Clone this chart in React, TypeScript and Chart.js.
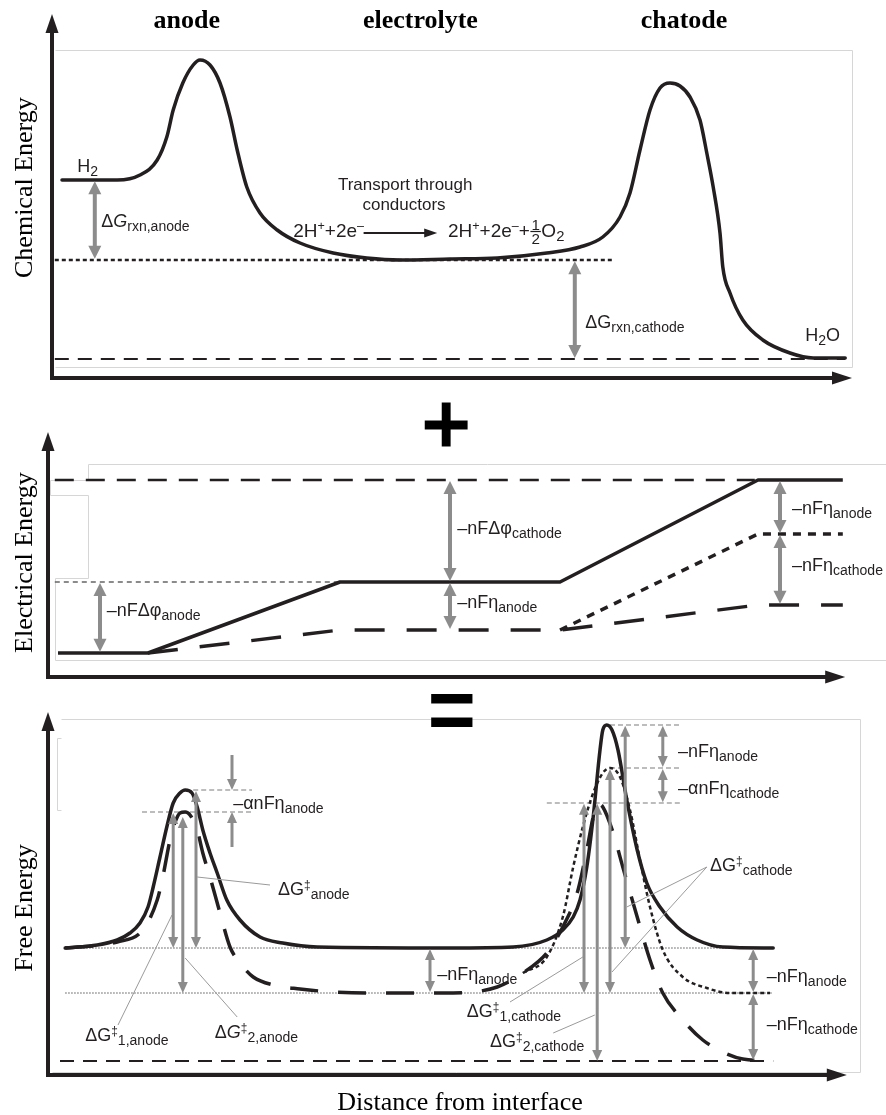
import React, { useEffect, useRef } from "react";
import { Chart, registerables } from "chart.js";

Chart.register(...registerables);

const W = 886;
const H = 1115;

// ---------------- DATA ----------------
// x = distance from interface (arbitrary units), y = energy (arbitrary units)

// Panel 1: chemical energy
const chemDistance = [1.5, 8.4, 11.25, 13.4, 14.6, 15.4, 16.6, 17.9, 18.75, 20, 21.25, 22.5, 23.4, 24.6, 26.25, 28.4, 31.25, 35.4, 39.6, 43.75, 50, 55.9, 62.1, 66.25, 69.1, 71.25, 72.5, 73.75, 75, 76.25, 77.5, 78.75, 80, 81.25, 82.1, 82.9, 83.75, 84.1, 85, 86.6, 89.1, 92.5, 95.4, 99.4];
const chemEnergy = [49.5, 49.5, 50.75, 54.5, 60.25, 67, 73.75, 78.25, 79.5, 78.25, 73.75, 65.25, 57, 47.75, 41.25, 37, 33.75, 31.25, 30, 29.5, 29.75, 30, 31.25, 32.75, 35.25, 40.25, 46.25, 57, 67, 72.5, 73.75, 73, 70.25, 64.5, 56.25, 47.75, 36.25, 27.75, 21.25, 14.5, 9.5, 6.25, 5, 5];
const chemIonLevel = 29.5;
const chemIonSpan = [0.6, 70.25];
const chemWaterLevel = 4.75;
const chemWaterSpan = [0.6, 99.4];

// Panel 2: electrical energy
const elecDistance = [1, 12.25, 36.25, 63.75, 88.5, 99.1];
const elecEquilibrium = [6, 6, 23.75, 23.75, 49.25, 49.25];
const elecAnodeDistance = [12.25, 36.25, 63.75, 88.5, 99.1];
const elecAnodeOver = [6, 11.75, 11.75, 18, 18];
const elecCathodeDistance = [63.75, 88.5, 99.1];
const elecCathodeOver = [11.75, 35.75, 35.75];
const elecTopLevel = 49.25;
const elecTopSpan = [0.6, 88.1];
const elecAnodeRefLevel = 23.75;
const elecAnodeRefSpan = [0.6, 36.25];

// Panel 3: free energy
const freeDistance = [1.9, 5.9, 8.4, 10, 11.25, 12.25, 12.9, 13.75, 14.6, 15.4, 16.25, 16.9, 17.75, 18.4, 19.1, 20, 20.9, 22.1, 23.75, 26.25, 29.1, 33.4, 50, 57.9, 62.1, 64.1, 65.4, 66.25, 67.1, 67.9, 68.75, 69.1, 69.6, 70.25, 71, 72.1, 73.4, 74.6, 76.25, 78.4, 80.9, 84.1, 90.4];
const freeEquilibrium = [31.75, 32.5, 33.75, 35.5, 38, 42, 47, 54.5, 62, 68, 70.5, 71.25, 70.5, 67, 61.25, 55.5, 50.5, 43.75, 38.75, 34.5, 33, 32, 31.75, 32, 33.75, 36.25, 39.5, 43.75, 52, 64.5, 81.25, 86.25, 87.5, 86.25, 81.25, 68.75, 56.25, 48, 42, 37, 33.75, 32, 31.75];
const freeBiasedDistance = [1.9, 8.4, 11.6, 13.4, 14.1, 15, 15.6, 16.25, 16.9, 17.5, 18.4, 19.1, 20, 21.25, 22.5, 23.75, 25.4, 27.9, 31.25, 35.4, 39.6, 50.4, 55.9, 59.1, 62.1, 64.1, 65.9, 67.1, 67.9, 68.4, 69.1, 70.4, 71.6, 73.4, 75, 76.6, 79.1, 81.6, 84.1, 86.6, 90.4];
const freeBiased = [31.75, 33.25, 36.25, 43.75, 49.5, 58.75, 63, 65.5, 65.75, 65, 61.25, 55.5, 49.5, 40.5, 32, 28, 24.5, 22.5, 21.5, 20.75, 20.5, 20.5, 22, 25.5, 30.5, 37, 45.5, 56.25, 64.5, 67.75, 67, 60.5, 52, 39.5, 28.75, 20.5, 13.75, 8.75, 5.75, 4, 3.5];
const freeAnodeOnlyDistance = [59.1, 62.1, 64.1, 65.4, 66.6, 67.9, 69.1, 70, 71.25, 72.5, 73.75, 75, 76.6, 79.1, 82.1, 85, 90];
const freeAnodeOnly = [25.5, 29.5, 39.5, 52, 62, 70.5, 75.5, 76.75, 74.5, 66.25, 53.75, 42, 31.25, 24.5, 21.75, 20.5, 20.5];
const freeHighLevel = 31.75;
const freeMidLevel = 20.5;
const freeLevelSpan = [1.9, 90.4];
const freeLowLevel = 3.5;
const freeLowSpan = [1.25, 90.4];
const peakMarkLevels = [71.25, 65.75, 87.5, 76.75, 68];
const peakMarkStarts = [17.9, 11.5, 70, 70, 62.1];
const peakMarkEnds = [25.25, 25.25, 78.75, 78.75, 78.75];

// ---------------- LAYOUT / STYLE ----------------
const INK = "#231f20";
const GRAY = "#8c8c8c";
const FRAME = "#d6d6d6";
const SANS = '"Liberation Sans", Arial, Helvetica, sans-serif';
const SERIF = '"Liberation Serif", "Times New Roman", Times, serif';
const PANEL_BASE: Record<string, number> = { yA: 378, yB: 677, yC: 1075 };
const PX_PER_UNIT_Y = 4;
const X_MIN = -6.25;
const X_MAX = 104.5;

type Kind = "" | "sub" | "sup" | "it" | "frac";
type Seg = [string, Kind];
interface Label { axis: string; x: number; y: number; size: number; segs: Seg[]; align?: "left" | "center"; }

const nFeta = (s: string): Seg[] => [["–nFη", ""], [s, "sub"]];

const LABELS: Label[] = [
  { axis: "yA", x: 3.4, y: 53.1, size: 18, segs: [["H", ""], ["2", "sub"]] },
  { axis: "yA", x: 94.4, y: 10.9, size: 18, segs: [["H", ""], ["2", "sub"], ["O", ""]] },
  { axis: "yA", x: 6.4, y: 39.25, size: 18, segs: [["Δ", ""], ["G", "it"], ["rxn,anode", "sub"]] },
  { axis: "yA", x: 66.9, y: 14.1, size: 18, segs: [["ΔG", ""], ["rxn,cathode", "sub"]] },
  { axis: "yA", x: 44.4, y: 48.5, size: 17, align: "center", segs: [["Transport through", ""]] },
  { axis: "yA", x: 44.25, y: 43.5, size: 17, align: "center", segs: [["conductors", ""]] },
  { axis: "yA", x: 30.4, y: 37, size: 19, segs: [["2H", ""], ["+", "sup"], ["+2e", ""], ["–", "sup"]] },
  { axis: "yA", x: 49.75, y: 37, size: 19, segs: [["2H", ""], ["+", "sup"], ["+2e", ""], ["–", "sup"], ["+", ""], ["1/2", "frac"], ["O", ""], ["2", "sub"]] },

  { axis: "yB", x: 7.1, y: 16.9, size: 18, segs: [["–nFΔφ", ""], ["anode", "sub"]] },
  { axis: "yB", x: 50.9, y: 37.4, size: 18, segs: [["–nFΔφ", ""], ["cathode", "sub"]] },
  { axis: "yB", x: 50.9, y: 18.9, size: 18, segs: nFeta("anode") },
  { axis: "yB", x: 92.75, y: 42.25, size: 18, segs: nFeta("anode") },
  { axis: "yB", x: 92.75, y: 28, size: 18, segs: nFeta("cathode") },

  { axis: "yC", x: 22.9, y: 68, size: 18, segs: [["–αnFη", ""], ["anode", "sub"]] },
  { axis: "yC", x: 28.5, y: 46.5, size: 18, segs: [["ΔG", ""], ["‡", "sup"], ["anode", "sub"]] },
  { axis: "yC", x: 4.4, y: 10, size: 18, segs: [["ΔG", ""], ["‡", "sup"], ["1,anode", "sub"]] },
  { axis: "yC", x: 20.6, y: 10.75, size: 18, segs: [["Δ", ""], ["G", "it"], ["‡", "sup"], ["2,anode", "sub"]] },
  { axis: "yC", x: 78.5, y: 81, size: 18, segs: nFeta("anode") },
  { axis: "yC", x: 78.5, y: 71.9, size: 18, segs: [["–αnFη", ""], ["cathode", "sub"]] },
  { axis: "yC", x: 82.5, y: 52.6, size: 18, segs: [["ΔG", ""], ["‡", "sup"], ["cathode", "sub"]] },
  { axis: "yC", x: 52.1, y: 16, size: 18, segs: [["ΔG", ""], ["‡", "sup"], ["1,cathode", "sub"]] },
  { axis: "yC", x: 55, y: 8.5, size: 18, segs: [["ΔG", ""], ["‡", "sup"], ["2,cathode", "sub"]] },
  { axis: "yC", x: 89.6, y: 24.75, size: 18, segs: nFeta("anode") },
  { axis: "yC", x: 89.6, y: 12.75, size: 18, segs: nFeta("cathode") },
  { axis: "yC", x: 48.4, y: 25.25, size: 18, segs: nFeta("anode") },
];

const TITLES = [
  { axis: "yA", x: 17.1, y: 87.5, text: "anode", font: `bold 26px ${SERIF}`, rot: false },
  { axis: "yA", x: 46.3, y: 87.5, text: "electrolyte", font: `bold 26px ${SERIF}`, rot: false },
  { axis: "yA", x: 79.25, y: 87.5, text: "chatode", font: `bold 26px ${SERIF}`, rot: false },
  { axis: "yC", x: 51.25, y: -8.75, text: "Distance from interface", font: `26px ${SERIF}`, rot: false },
  { axis: "yA", x: -3.125, y: 47.6, text: "Chemical Energy", font: `26px ${SERIF}`, rot: true },
  { axis: "yB", x: -3.125, y: 28.6, text: "Electrical Energy", font: `26px ${SERIF}`, rot: true },
  { axis: "yC", x: -3.125, y: 41.75, text: "Free Energy", font: `26px ${SERIF}`, rot: true },
];

const AXES = [
  { axis: "yA", x0: 0.25, yTip: 91, xTip: 100.25 },
  { axis: "yB", x0: -0.25, yTip: 61.25, xTip: 99.4 },
  { axis: "yC", x0: -0.25, yTip: 90.75, xTip: 99.6 },
];

// gray arrows: [axis, x, from, to, double]
const ARROWS: [string, number, number, number, boolean][] = [
  ["yA", 5.6, 49.2, 29.8, true],
  ["yA", 65.6, 29.2, 5.0, true],
  ["yB", 6.25, 23.5, 6.3, true],
  ["yB", 50, 49.0, 24.0, true],
  ["yB", 50, 23.5, 12.0, true],
  ["yB", 91.25, 49.0, 36.0, true],
  ["yB", 91.25, 35.5, 18.3, true],
  ["yC", 15.4, 65.5, 31.75, true],
  ["yC", 16.6, 64.5, 20.5, true],
  ["yC", 18.25, 71.0, 31.75, true],
  ["yC", 22.75, 80, 71.25, false],
  ["yC", 22.75, 57, 65.75, false],
  ["yC", 47.5, 31.5, 20.75, true],
  ["yC", 71.9, 87.3, 31.75, true],
  ["yC", 70, 76.5, 20.5, true],
  ["yC", 66.75, 67.8, 20.5, true],
  ["yC", 68.4, 67.8, 3.5, true],
  ["yC", 76.6, 87.3, 77.0, true],
  ["yC", 76.6, 76.5, 68.2, true],
  ["yC", 87.9, 31.5, 20.75, true],
  ["yC", 87.9, 20.25, 3.75, true],
];

const LEADERS: [string, number, number, number, number][] = [
  ["yC", 18.4, 49.5, 27.5, 47.5],
  ["yC", 15.25, 40, 8.5, 12.5],
  ["yC", 16.9, 29.25, 23.4, 14.5],
  ["yC", 72.1, 42, 82.1, 52],
  ["yC", 70.25, 25.75, 82.1, 52],
  ["yC", 66.6, 29.5, 57.5, 18.25],
  ["yC", 68.1, 15, 62.9, 10.5],
];

const FRAMES: { axis: string; pts: number[][] }[] = [
  { axis: "yA", pts: [[0.6, 82], [100.25, 82], [100.25, 2.75], [0.6, 2.75]] },
  { axis: "yB", pts: [[104.5, 53.25], [4.75, 53.25], [4.75, 49.25], [0, 49.25], [0, 45.5], [4.75, 45.5], [4.75, 24.75], [0.6, 24.75], [0.6, 4.25], [104.5, 4.25]] },
  { axis: "yC", pts: [[1.4, 89], [101.25, 89], [101.25, 0.75], [0.25, 0.75]] },
  { axis: "yC", pts: [[1.4, 84.25], [0.9, 84.25], [0.9, 66.25], [1.4, 66.25]] },
];

const EQ_ARROW = { axis: "yA", x1: 39.2, x2: 48.4, y: 36.25 };
const SYMBOLS = [
  { axis: "yB", x: 49.5, y: 63.4, ch: "+", w: 44, h: 45, weight: "normal", thicken: 3 },
  { axis: "yB", x: 50.25, y: -8.4, ch: "=", w: 42, h: 33, weight: "bold", thicken: 0 },
];

// ---------------- HELPERS ----------------
function pts(xs: number[], ys: number[]) {
  return xs.map((x, i) => ({ x, y: ys[i] }));
}

function drawRich(ctx: CanvasRenderingContext2D, segs: Seg[], x: number, yMid: number, size: number, align: string) {
  const pieces = segs.map(([t, k]) => {
    if (k === "frac") {
      const s = size * 0.8;
      ctx.font = `${s}px ${SANS}`;
      const [n, d] = t.split("/");
      const w = Math.max(ctx.measureText(n).width, ctx.measureText(d).width) + 3;
      return { t, k, s, w, font: ctx.font };
    }
    const s = k === "sub" ? size * 0.78 : k === "sup" ? size * 0.66 : size;
    const font = `${k === "it" ? "italic " : ""}${s}px ${SANS}`;
    ctx.font = font;
    return { t, k, s, w: ctx.measureText(t).width, font };
  });
  const total = pieces.reduce((a, p) => a + p.w, 0);
  let cx = align === "center" ? x - total / 2 : x;
  const base = yMid + size * 0.358;
  ctx.textAlign = "left";
  ctx.textBaseline = "alphabetic";
  for (const p of pieces) {
    ctx.font = p.font;
    if (p.k === "frac") {
      const [n, d] = p.t.split("/");
      const bar = yMid + 1.5;
      ctx.fillText(n, cx + 1.5, bar - 2);
      ctx.fillText(d, cx + 1.5, bar + 2 + p.s * 0.716);
      ctx.fillRect(cx + 0.5, bar - 0.6, p.w - 1, 1.2);
    } else {
      const dy = p.k === "sub" ? size * 0.22 : p.k === "sup" ? -size * 0.36 : 0;
      ctx.fillText(p.t, cx, base + dy);
    }
    cx += p.w;
  }
}

function fitGlyph(ctx: CanvasRenderingContext2D, ch: string, weight: string, thicken: number, cx: number, cy: number, w: number, h: number) {
  ctx.save();
  ctx.font = `${weight} 100px ${SANS}`;
  ctx.textAlign = "left";
  ctx.textBaseline = "alphabetic";
  const m = ctx.measureText(ch);
  const gw = m.actualBoundingBoxLeft + m.actualBoundingBoxRight;
  const gh = m.actualBoundingBoxAscent + m.actualBoundingBoxDescent;
  const sx = (w - thicken) / gw;
  const sy = (h - thicken) / gh;
  ctx.translate(cx, cy);
  ctx.scale(sx, sy);
  ctx.fillStyle = "#000";
  const ox = -(m.actualBoundingBoxRight - m.actualBoundingBoxLeft) / 2;
  const oy = (m.actualBoundingBoxAscent - m.actualBoundingBoxDescent) / 2;
  ctx.fillText(ch, ox, oy);
  if (thicken > 0) {
    ctx.strokeStyle = "#000";
    ctx.lineWidth = thicken / Math.min(sx, sy);
    ctx.lineJoin = "miter";
    ctx.strokeText(ch, ox, oy);
  }
  ctx.restore();
}

const diagramPlugin = {
  id: "electroDiagram",
  beforeDatasetsDraw(chart: any) {
    const ctx: CanvasRenderingContext2D = chart.ctx;
    const X = (v: number) => chart.scales.x.getPixelForValue(v);
    const Y = (a: string, v: number) => chart.scales[a].getPixelForValue(v);
    ctx.save();
    ctx.strokeStyle = FRAME;
    ctx.lineWidth = 1;
    for (const f of FRAMES) {
      ctx.beginPath();
      f.pts.forEach(([x, y], i) => {
        const px = Math.round(X(x)) + 0.5;
        const py = Math.round(Y(f.axis, y)) + 0.5;
        if (i) ctx.lineTo(px, py);
        else ctx.moveTo(px, py);
      });
      ctx.stroke();
    }
    ctx.restore();
  },
  afterDatasetsDraw(chart: any) {
    const ctx: CanvasRenderingContext2D = chart.ctx;
    const X = (v: number) => chart.scales.x.getPixelForValue(v);
    const Y = (a: string, v: number) => chart.scales[a].getPixelForValue(v);
    ctx.save();

    // axes with arrowheads
    ctx.strokeStyle = INK;
    ctx.fillStyle = INK;
    ctx.lineWidth = 4;
    ctx.lineCap = "butt";
    for (const a of AXES) {
      const ox = X(a.x0), oy = Y(a.axis, 0), ty = Y(a.axis, a.yTip), tx = X(a.xTip);
      ctx.beginPath();
      ctx.moveTo(ox, oy + 2);
      ctx.lineTo(ox, ty + 16);
      ctx.moveTo(ox - 2, oy);
      ctx.lineTo(tx - 16, oy);
      ctx.stroke();
      ctx.beginPath();
      ctx.moveTo(ox, ty);
      ctx.lineTo(ox - 6.5, ty + 19);
      ctx.lineTo(ox + 6.5, ty + 19);
      ctx.closePath();
      ctx.fill();
      ctx.beginPath();
      ctx.moveTo(tx, oy);
      ctx.lineTo(tx - 20, oy - 6.5);
      ctx.lineTo(tx - 20, oy + 6.5);
      ctx.closePath();
      ctx.fill();
    }

    // reaction arrow
    {
      const x1 = X(EQ_ARROW.x1), x2 = X(EQ_ARROW.x2), y = Y(EQ_ARROW.axis, EQ_ARROW.y);
      ctx.lineWidth = 2;
      ctx.beginPath();
      ctx.moveTo(x1, y);
      ctx.lineTo(x2 - 10, y);
      ctx.stroke();
      ctx.beginPath();
      ctx.moveTo(x2, y);
      ctx.lineTo(x2 - 13, y - 4.5);
      ctx.lineTo(x2 - 13, y + 4.5);
      ctx.closePath();
      ctx.fill();
    }

    // leader lines
    ctx.strokeStyle = "#9a9a9a";
    ctx.lineWidth = 1;
    for (const [a, x1, y1, x2, y2] of LEADERS) {
      ctx.beginPath();
      ctx.moveTo(X(x1), Y(a, y1));
      ctx.lineTo(X(x2), Y(a, y2));
      ctx.stroke();
    }

    // gray measurement arrows
    ctx.strokeStyle = GRAY;
    ctx.fillStyle = GRAY;
    for (const [a, x, from, to, both] of ARROWS) {
      const small = a === "yC";
      const shaft = small ? 3 : 4;
      const hl = small ? 11 : 13;
      const hw = small ? 5 : 6.5;
      const px = X(x), p1 = Y(a, from), p2 = Y(a, to);
      const dir = Math.sign(p2 - p1);
      ctx.lineWidth = shaft;
      ctx.beginPath();
      ctx.moveTo(px, both ? p1 + dir * (hl - 2) : p1);
      ctx.lineTo(px, p2 - dir * (hl - 2));
      ctx.stroke();
      const head = (tip: number, d: number) => {
        ctx.beginPath();
        ctx.moveTo(px, tip);
        ctx.lineTo(px - hw, tip - d * hl);
        ctx.lineTo(px + hw, tip - d * hl);
        ctx.closePath();
        ctx.fill();
      };
      head(p2, dir);
      if (both) head(p1, -dir);
    }

    // labels
    ctx.fillStyle = INK;
    for (const l of LABELS) {
      drawRich(ctx, l.segs, X(l.x), Y(l.axis, l.y), l.size, l.align || "left");
    }

    // titles
    for (const t of TITLES) {
      ctx.save();
      ctx.font = t.font;
      ctx.fillStyle = "#000";
      ctx.textAlign = "center";
      if (t.rot) {
        ctx.translate(X(t.x), Y(t.axis, t.y));
        ctx.rotate(-Math.PI / 2);
        ctx.textBaseline = "middle";
        ctx.fillText(t.text, 0, 0);
      } else {
        ctx.textBaseline = "alphabetic";
        ctx.fillText(t.text, X(t.x), Y(t.axis, t.y));
      }
      ctx.restore();
    }

    for (const s of SYMBOLS) fitGlyph(ctx, s.ch, s.weight, s.thicken, X(s.x), Y(s.axis, s.y), s.w, s.h);

    ctx.restore();
  },
};

function buildConfig(): any {
  const solid = { borderColor: INK, borderWidth: 3.5, cubicInterpolationMode: "monotone", borderJoinStyle: "round", borderCapStyle: "round" };
  const straight = (color: string, width: number, dash: number[]) => ({ borderColor: color, borderWidth: width, borderDash: dash, tension: 0, borderCapStyle: "butt" });
  const level = (axis: string, span: number[], y: number, style: any) => ({ yAxisID: axis, data: pts(span, [y, y]), ...style });

  const datasets: any[] = [
    { yAxisID: "yA", data: pts(chemDistance, chemEnergy), ...solid },
    { yAxisID: "yB", data: pts(elecDistance, elecEquilibrium), ...solid, cubicInterpolationMode: "default", tension: 0, borderCapStyle: "butt" },
    { yAxisID: "yC", data: pts(freeDistance, freeEquilibrium), ...solid },
    { yAxisID: "yB", data: pts(elecAnodeDistance, elecAnodeOver), ...straight(INK, 3.5, [30, 22]) },
    { yAxisID: "yB", data: pts(elecCathodeDistance, elecCathodeOver), ...straight(INK, 3.5, [8, 7]) },
    { yAxisID: "yC", data: pts(freeBiasedDistance, freeBiased), ...solid, borderDash: [28, 20], borderCapStyle: "butt" },
    { yAxisID: "yC", data: pts(freeAnodeOnlyDistance, freeAnodeOnly), ...solid, borderWidth: 2.5, borderDash: [4, 3], borderCapStyle: "butt" },
    level("yA", chemIonSpan, chemIonLevel, straight(INK, 2.5, [4, 3])),
    level("yA", chemWaterSpan, chemWaterLevel, straight(INK, 2.2, [14, 9])),
    level("yB", elecTopSpan, elecTopLevel, straight(INK, 2.5, [19, 12])),
    level("yB", elecAnodeRefSpan, elecAnodeRefLevel, straight("#666", 1.5, [5, 4])),
    level("yC", freeLowSpan, freeLowLevel, straight(INK, 2.2, [14, 9])),
    level("yC", freeLevelSpan, freeHighLevel, straight("#555", 1, [1.5, 1.5])),
    level("yC", freeLevelSpan, freeMidLevel, straight("#555", 1, [1.5, 1.5])),
  ];
  peakMarkLevels.forEach((y, i) => {
    datasets.push(level("yC", [peakMarkStarts[i], peakMarkEnds[i]], y, straight("#bdbdbd", 2, [5, 3])));
  });
  datasets.forEach((d) => {
    d.xAxisID = "x";
    d.pointRadius = 0;
    d.pointHoverRadius = 0;
    d.fill = false;
  });

  const yScale = (axis: string) => ({
    type: "linear",
    display: false,
    min: -(H - PANEL_BASE[axis]) / PX_PER_UNIT_Y,
    max: PANEL_BASE[axis] / PX_PER_UNIT_Y,
  });

  return {
    type: "line",
    data: { datasets },
    options: {
      animation: false,
      responsive: false,
      maintainAspectRatio: false,
      devicePixelRatio: 1,
      layout: { padding: 0 },
      events: [],
      plugins: { legend: { display: false }, tooltip: { enabled: false }, title: { display: false } },
      scales: {
        x: { type: "linear", display: false, min: X_MIN, max: X_MAX },
        yA: yScale("yA"),
        yB: yScale("yB"),
        yC: yScale("yC"),
      },
    },
    plugins: [diagramPlugin],
  };
}

export default function App() {
  const ref = useRef<HTMLCanvasElement>(null);
  useEffect(() => {
    if (!ref.current) return;
    const chart = new Chart(ref.current, buildConfig());
    return () => chart.destroy();
  }, []);
  return (
    <div style={{ position: "absolute", left: 0, top: 0, width: W, height: H, background: "#fff" }}>
      <canvas ref={ref} width={W} height={H} style={{ display: "block", width: W, height: H }} />
    </div>
  );
}
